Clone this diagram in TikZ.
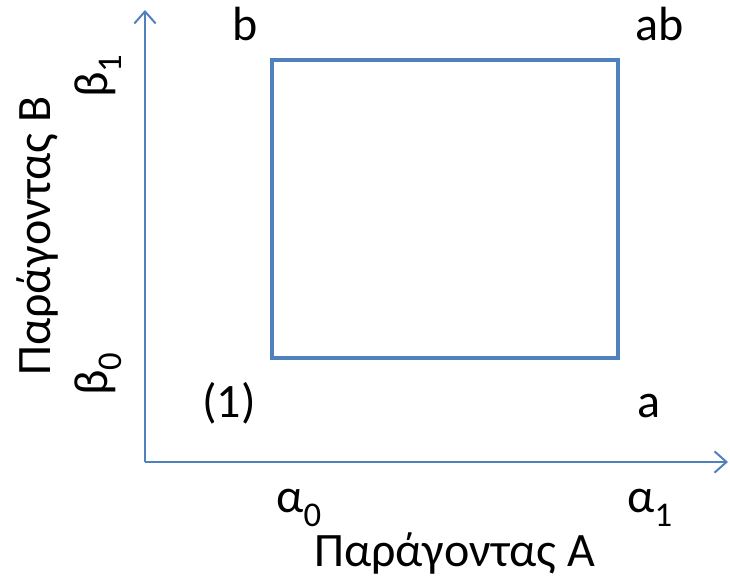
\documentclass[tikz,border=0pt]{standalone}
\usepackage{fontspec}
\setmainfont{Carlito}
\usetikzlibrary{arrows.meta,positioning}
\definecolor{officeblue}{RGB}{79,129,189}
\newcommand{\lowsub}[1]{\raisebox{-0.3em}{\fontsize{26}{26}\selectfont #1}}

\begin{document}
\begin{tikzpicture}[
   x=0.75pt,y=-0.75pt,
   axis/.style={officeblue,line width=1.5pt,-{Straight Barb[length=9pt,width=16pt,line width=1.5pt]}},
   cell/.style={officeblue,line width=3pt},
   lbl/.style={font=\fontsize{36}{42}\selectfont,inner sep=0pt,anchor=base west}
  ]
  \useasboundingbox (0,0) rectangle (730,577);

  % axes
  \coordinate (O) at (145,462);
  \coordinate (ytop) at (145,10);
  \coordinate (xend) at (728,462);
  \draw[axis] (O) -- (ytop);
  \draw[axis] (O) -- (xend);

  % design square
  \coordinate (c1) at (272,358);
  \coordinate (ca) at (618,358);
  \coordinate (cb) at (272,60);
  \coordinate (cab) at (618,60);
  \draw[cell] (c1) -- (ca) -- (cab) -- (cb) -- cycle;

  % corner labels
  \node[lbl] (l1)  at (202,417) {(1)};
  \node[lbl] (la)  at (637,417) {a};
  \node[lbl] (lb)  at (232,41)  {b};
  \node[lbl] (lab) at (635,41)  {ab};

  % factor levels
  \node[lbl] (a0) at (276,512) {α\lowsub{0}};
  \node[lbl] (a1) at (627,512) {α\lowsub{1}};
  \node[lbl,rotate=90] (b0) at (107,396) {β\lowsub{0}};
  \node[lbl,rotate=90] (b1) at (107,98)  {β\lowsub{1}};

  % axis titles
  \node[lbl] (fa) at (314,566) {Παράγοντας A};
  \node[lbl,rotate=90] (fb) at (50,376) {Παράγοντας B};
\end{tikzpicture}
\end{document}
